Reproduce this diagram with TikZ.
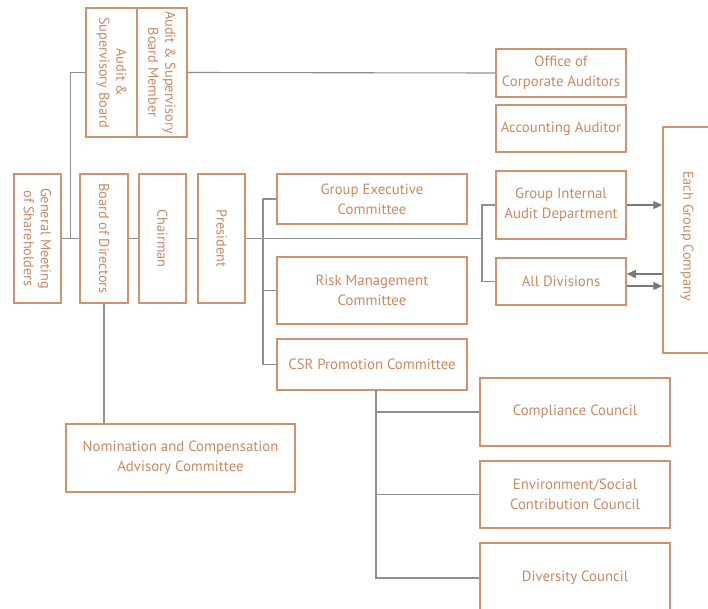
\documentclass[tikz,border=0pt]{standalone}
\usepackage{fontspec}
\setmainfont{PT Sans}
\usetikzlibrary{arrows.meta,calc}
\definecolor{boxc}{RGB}{206,146,110}
\definecolor{txtc}{RGB}{200,138,100}
\definecolor{linec}{RGB}{142,142,142}
\definecolor{arrc}{RGB}{120,120,120}
\begin{document}
\begin{tikzpicture}[x=1pt,y=-1pt,
  box/.style={draw=boxc, line width=1.5pt, text=txtc, align=center, inner sep=0pt,
    font=\fontsize{14.8}{20}\selectfont},
  vtext/.style={rotate=-90, text=txtc, align=center, font=\fontsize{14.3}{17}\selectfont},
  conn/.style={draw=linec, line width=1.1pt},
  arr/.style={conn, draw=arrc, -{Triangle[length=9pt,width=8pt]}}]
\useasboundingbox[fill=white] (0,0) rectangle (708,609);
% left column
\node[box, minimum width=51pt, minimum height=129pt] (asb) at (111.5,72.5) {};
\node[vtext] (asbt) at (asb.center) {Audit \&\\Supervisory Board};
\node[box, minimum width=50pt, minimum height=129pt] (asbm) at (162,72.5) {};
\node[vtext] (asbmt) at (asbm.center) {Audit \& Supervisory\\Board Member};
\node[box, minimum width=47pt, minimum height=129pt] (gm) at (37.5,238.5) {};
\node[vtext] (gmt) at (gm.center) {General Meeting\\of Shareholders};
\node[box, minimum width=48pt, minimum height=129pt] (bod) at (104,238.5) {};
\node[vtext] (bodt) at (bod.center) {Board of Directors};
\node[box, minimum width=47pt, minimum height=129pt] (chair) at (162.5,238.5) {};
\node[vtext] (chairt) at (chair.center) {Chairman};
\node[box, minimum width=47pt, minimum height=129pt] (pres) at (221.5,238.5) {};
\node[vtext] (prest) at (pres.center) {President};
\node[box, minimum width=229pt, minimum height=68pt] (ncac) at (180.5,458) {Nomination and Compensation\\Advisory Committee};
% committees
\node[box, minimum width=190pt, minimum height=50pt] (gec) at (372,199) {Group Executive\\Committee};
\node[box, minimum width=190pt, minimum height=67pt] (rmc) at (372,290.5) {Risk Management\\Committee};
\node[box, minimum width=190pt, minimum height=51pt] (csr) at (372,364.5) {CSR Promotion Committee};
% councils
\node[box, minimum width=190pt, minimum height=68pt] (cc) at (575,412) {Compliance Council};
\node[box, minimum width=190pt, minimum height=67pt] (env) at (575,494.5) {Environment/Social\\Contribution Council};
\node[box, minimum width=190pt, minimum height=70pt] (div) at (575,578) {Diversity Council};
% right
\node[box, minimum width=130pt, minimum height=48pt] (oca) at (561,73) {Office of\\Corporate Auditors};
\node[box, minimum width=130pt, minimum height=47pt] (acc) at (561,128.5) {Accounting Auditor};
\node[box, minimum width=130pt, minimum height=68pt] (giad) at (561,205) {Group Internal\\Audit Department};
\node[box, minimum width=130pt, minimum height=47pt] (alld) at (561,281.5) {All Divisions};
\node[box, minimum width=97pt, minimum height=226pt] (egc) at (711.5,240) {};
\node[vtext] (egct) at (687,236) {Each Group Company};
% junctions
\coordinate (j1) at ($(gm.east)!0.5!(bod.west)$);
\coordinate (j2) at (482,238.5);
\coordinate (j3) at (263,238.5);
\coordinate (j4) at (376,390);
\coordinate (a1) at ([yshift=7.5pt]alld.east);
\coordinate (a2) at ([yshift=-4.5pt]alld.east);
% connectors
\draw[conn] (gm.east) -- (bod.west);
\draw[conn] (asb.west) -| (j1);
\draw[conn] (asbm.east) -- (oca.west);
\draw[conn] (bod.east) -- (chair.west);
\draw[conn] (chair.east) -- (pres.west);
\draw[conn] (pres.east) -- (j2);
\draw[conn] (giad.west) -| (j2) |- (alld.west);
\draw[conn] (gec.west) -| (j3) |- (csr.west);
\draw[conn] (j3) |- (rmc.west);
\draw[conn] (j4) |- (cc.west);
\draw[conn] (j4) |- (env.west);
\draw[conn] (j4) |- (div.west);
\draw[conn] (bod.south) -- (bod.south |- ncac.north);
\draw[arr] (giad.east) -- (giad.east -| egc.west);
\draw[arr] (a1 -| egc.west) -- (a1);
\draw[arr] (a2) -- (a2 -| egc.west);
\end{tikzpicture}
\end{document}
